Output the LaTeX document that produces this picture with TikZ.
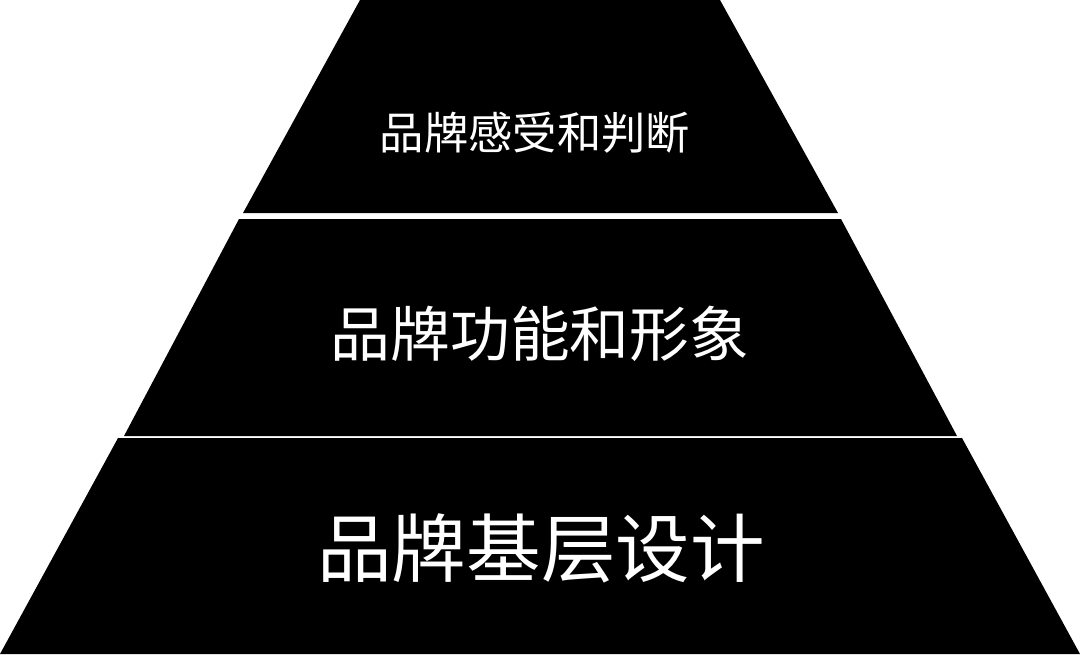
\documentclass[tikz,border=0pt]{standalone}
\usepackage{fontspec}
\newfontfamily\cjk{Noto Sans CJK SC}
\usepackage{tikz}
\tikzset{
        layer/.style={fill=black,draw=none},
        word/.style={text=white,inner sep=0pt,font=\cjk}
        }

\begin{document}
\begin{tikzpicture}[x=0.01cm,y=-0.01cm]
    % 画布大小
    \useasboundingbox (0,0) rectangle (1080,654);
    % 顶层
    \fill[layer] (360,0) -- (720,0) -- (838,213) -- (243,213) -- cycle;
    \node[word,font=\cjk\fontsize{12.6pt}{14pt}\selectfont] (top) at (535,133) {品牌感受和判断};
    % 中层
    \fill[layer] (239,219) -- (841,219) -- (957,436) -- (124,436) -- cycle;
    \node[word,font=\cjk\fontsize{17pt}{19pt}\selectfont] (mid) at (540,334) {品牌功能和形象};
    % 底层
    \fill[layer] (118,438) -- (962,438) -- (1080,654) -- (0,654) -- cycle;
    \node[word,font=\cjk\fontsize{21.2pt}{24pt}\selectfont] (base) at (541,548) {品牌基层设计};
\end{tikzpicture}
\end{document}
